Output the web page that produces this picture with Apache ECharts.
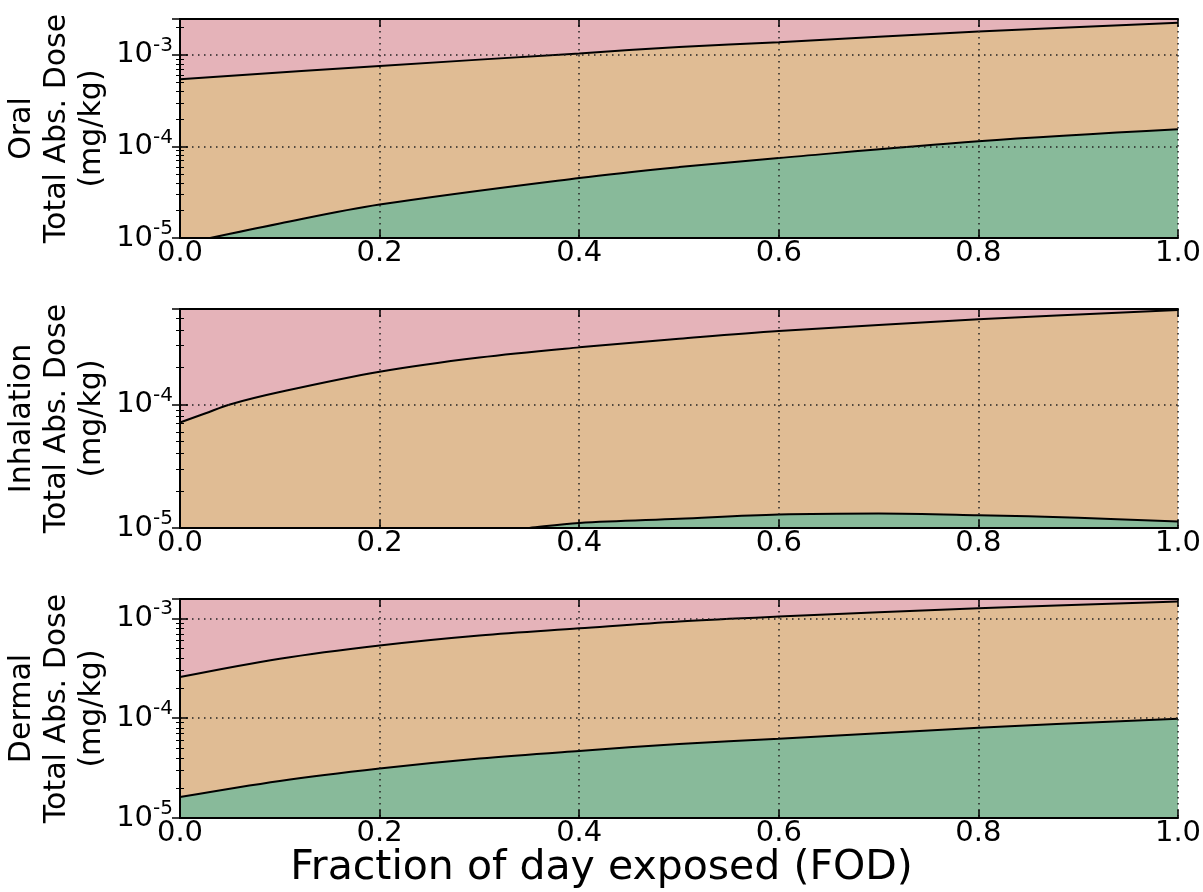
<!DOCTYPE html>
<html><head><meta charset="utf-8">
<script src="https://cdn.jsdelivr.net/npm/echarts@6/dist/echarts.min.js"></script>
<style>html,body{margin:0;padding:0;background:#fff}#c{width:1203px;height:892px}</style>
</head><body><div id="c"></div>
<script>
// ---------- data ----------
const panelNames = ['Oral', 'Inhalation', 'Dermal'];
const xTicks = [0, 0.2, 0.4, 0.6, 0.8, 1.0];
const yMin = 1e-5;
const yMax = [2.47e-3, 5.93e-4, 1.56e-3];

const oralUpperX = [0, 0.2, 0.4, 0.5, 0.6, 0.8, 1.0];
const oralUpperY = [5.42e-4, 7.58e-4, 1.04e-3, 1.22e-3, 1.38e-3, 1.80e-3, 2.25e-3];
const oralLowerX = [0, 0.1, 0.2, 0.4, 0.5, 0.6, 0.8, 1.0];
const oralLowerY = [8.5e-6, 1.44e-5, 2.32e-5, 4.53e-5, 5.95e-5, 7.48e-5, 1.14e-4, 1.54e-4];

const inhUpperX = [0, 0.025, 0.05, 0.1, 0.2, 0.3, 0.4, 0.5, 0.6, 0.8, 1.0];
const inhUpperY = [7.15e-5, 8.45e-5, 1.0e-4, 1.26e-4, 1.84e-4, 2.40e-4, 2.90e-4, 3.40e-4, 3.93e-4, 4.89e-4, 5.82e-4];
const inhLowerX = [0.3, 0.35, 0.4, 0.5, 0.6, 0.7, 0.8, 0.9, 1.0];
const inhLowerY = [9.0e-6, 1.0e-5, 1.10e-5, 1.19e-5, 1.285e-5, 1.31e-5, 1.27e-5, 1.21e-5, 1.13e-5];

const derUpperX = [0, 0.1, 0.2, 0.3, 0.4, 0.5, 0.6, 0.8, 1.0];
const derUpperY = [2.58e-4, 3.94e-4, 5.35e-4, 6.74e-4, 7.94e-4, 9.3e-4, 1.04e-3, 1.26e-3, 1.47e-3];
const derLowerX = [0, 0.1, 0.2, 0.3, 0.4, 0.5, 0.6, 0.8, 1.0];
const derLowerY = [1.62e-5, 2.35e-5, 3.13e-5, 3.94e-5, 4.70e-5, 5.5e-5, 6.21e-5, 8.01e-5, 9.86e-5];

const xTitle = 'Fraction of day exposed (FOD)';

// ---------- styling ----------
const FONT = 'DejaVu Sans';
const PINK = '#e5b3b9', ORANGE = '#e0bc94', GREEN = '#88ba9a';
const gridTops = [19, 309, 599];
const gridH = 219;
const panels = [
  [oralUpperX, oralUpperY, oralLowerX, oralLowerY],
  [inhUpperX, inhUpperY, inhLowerX, inhLowerY],
  [derUpperX, derUpperY, derLowerX, derLowerY]
];

const grids = [], xAxes = [], yAxes = [], series = [];
const dotted = {color: '#222', width: 1.5, type: [1.5, 4.5]};
const blackLine = {color: '#000', width: 2};

panels.forEach((p, i) => {
  grids.push({left: 180, right: 25, top: gridTops[i], height: gridH,
    outerBoundsMode: 'none', containLabel: false,
    show: true, backgroundColor: PINK, borderWidth: 0});
  xAxes.push({type: 'value', gridIndex: i, min: 0, max: 1, interval: 0.2, z: 5,
    axisLine: {show: true, lineStyle: blackLine},
    axisTick: {show: true, inside: true, length: 8, lineStyle: {color: '#000', width: 1.5}},
    axisLabel: {show: true, fontFamily: FONT, fontSize: 29, color: '#000', margin: 1,
      formatter: v => v.toFixed(1)},
    splitLine: {show: true, lineStyle: dotted}
  });
  xAxes.push({type: 'value', gridIndex: i, position: 'top', min: 0, max: 1, interval: 0.2, z: 5,
    axisLine: {show: true, lineStyle: blackLine},
    axisTick: {show: true, inside: true, length: 8, lineStyle: {color: '#000', width: 1.5}},
    axisLabel: {show: false}, splitLine: {show: false}
  });
  yAxes.push({type: 'log', logBase: 10, gridIndex: i, min: yMin, max: yMax[i], z: 5,
    name: panelNames[i] + '\nTotal Abs. Dose\n(mg/kg)',
    nameLocation: 'middle', nameRotate: 90, nameGap: 70, nameMoveOverlap: false,
    nameTextStyle: {fontFamily: FONT, fontSize: 30, lineHeight: 35, color: '#000', align: 'center'},
    axisLine: {show: true, lineStyle: blackLine},
    axisTick: {show: true, inside: true, length: 8, lineStyle: {color: '#000', width: 1.5}},
    minorTick: {show: true, splitNumber: 9, length: 4, lineStyle: {color: '#000', width: 1}},
    axisLabel: {show: true, margin: 7, color: '#000',
      formatter: v => {
        const e = Math.log10(v), r = Math.round(e);
        if (Math.abs(e - r) > 1e-6) return '';
        return '{b|10}{s|' + r + '}';
      },
      rich: {
        b: {fontFamily: FONT, fontSize: 29, lineHeight: 38, color: '#000'},
        s: {fontFamily: FONT, fontSize: 20, lineHeight: 22, verticalAlign: 'top', color: '#000'}
      }
    },
    splitLine: {show: true, lineStyle: dotted}
  });
  yAxes.push({type: 'log', logBase: 10, gridIndex: i, position: 'right', min: yMin, max: yMax[i], z: 5,
    axisLine: {show: true, lineStyle: blackLine},
    axisTick: {show: true, inside: true, length: 8, lineStyle: {color: '#000', width: 1.5}},
    minorTick: {show: true, splitNumber: 9, length: 4, lineStyle: {color: '#000', width: 1}},
    axisLabel: {show: false}, splitLine: {show: false}
  });

  const mk = (xs, ys, color) => ({
    type: 'line', xAxisIndex: 2 * i, yAxisIndex: 2 * i,
    data: xs.map((x, k) => [x, ys[k]]),
    symbol: 'none', smooth: 0.35, clip: true, silent: true, z: 2,
    lineStyle: {color: '#000', width: 2},
    areaStyle: {color: color, opacity: 1, origin: 'start'}
  });
  series.push(mk(p[0], p[1], ORANGE));
  series.push(mk(p[2], p[3], GREEN));
});

const chart = echarts.init(document.getElementById('c'), null, {renderer: 'canvas'});
chart.setOption({
  animation: false,
  backgroundColor: '#fff',
  title: {text: xTitle, left: 'center', top: 843,
    textStyle: {fontFamily: FONT, fontSize: 41, fontWeight: 'normal', color: '#000'}},
  grid: grids, xAxis: xAxes, yAxis: yAxes, series: series
});
</script></body></html>
